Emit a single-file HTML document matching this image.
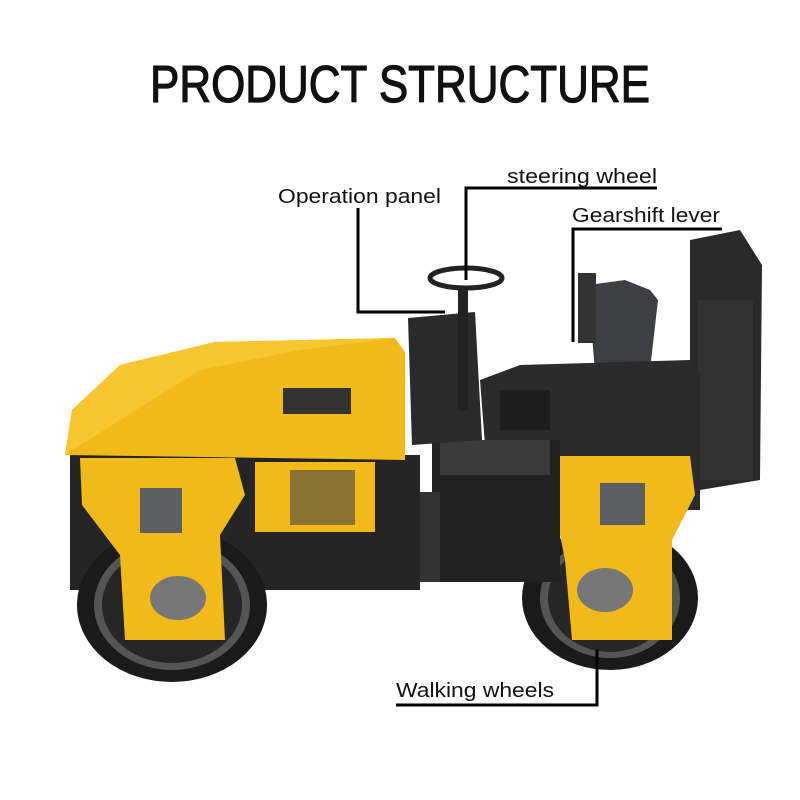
<!DOCTYPE html>
<html><head><meta charset="utf-8"><style>html,body{margin:0;padding:0;background:#fff}svg{display:block}</style></head>
<body>
<svg width="800" height="800" viewBox="0 0 800 800" xmlns="http://www.w3.org/2000/svg" font-family="Liberation Sans, sans-serif">
<rect width="800" height="800" fill="#fff"/>
<text x="400" y="102" text-anchor="middle" font-size="52" textLength="500" lengthAdjust="spacingAndGlyphs" fill="#111" stroke="#111" stroke-width="1.2">PRODUCT STRUCTURE</text>

<!-- ROPS back -->
<polygon points="690,240 740,230 762,265 760,480 700,490 690,470" fill="#2a2a2a"/>
<rect x="698" y="300" width="55" height="180" fill="#333"/>
<!-- seat -->
<polygon points="588,285 625,280 650,290 658,300 650,370 595,372" fill="#3d3f44"/>
<rect x="578" y="273" width="18" height="70" fill="#333"/>
<!-- right body -->
<polygon points="480,380 520,365 690,360 700,375 700,510 490,510" fill="#2b2b2b"/>
<rect x="500" y="390" width="50" height="40" fill="#1d1d1d"/>
<!-- right wheel -->
<ellipse cx="610" cy="598" rx="88" ry="72" fill="#1a1a1a"/>
<ellipse cx="610" cy="598" rx="70" ry="60" fill="#555"/>
<ellipse cx="610" cy="598" rx="62" ry="54" fill="#262626"/>
<path d="M558,456 L690,456 L695,495 L672,540 L672,640 L572,640 L565,560 L553,500 Z" fill="#f2b91a"/>
<rect x="600" y="483" width="45" height="42" fill="#5c6065"/>
<ellipse cx="605" cy="590" rx="28" ry="22" fill="#777"/>
<!-- operator platform -->
<rect x="432" y="440" width="128" height="142" fill="#222"/>
<rect x="440" y="440" width="110" height="35" fill="#3a3a3a"/>
<!-- panel & steering -->
<polygon points="408,318 475,312 482,440 412,445" fill="#2a2a2a"/>
<rect x="458" y="290" width="10" height="120" fill="#222"/>
<ellipse cx="466" cy="278" rx="36" ry="10" fill="none" stroke="#222" stroke-width="5"/>
<!-- coupling -->
<rect x="395" y="492" width="45" height="90" fill="#333"/>
<!-- left frame -->
<rect x="70" y="455" width="350" height="135" fill="#252525"/>
<!-- yellow hood -->
<path d="M65,455 L72,410 L120,365 L215,342 L395,338 L405,352 L405,460 Z" fill="#f2b91a"/>
<path d="M65,455 L72,410 L120,365 L215,342 L395,338 L300,350 L200,370 L120,420 Z" fill="#f7c630"/>
<g fill="#333"><rect x="283" y="388" width="68" height="26"/></g>
<!-- side panel -->
<rect x="255" y="462" width="120" height="70" fill="#f2b91a"/>
<rect x="290" y="470" width="65" height="55" fill="#444" opacity=".6"/>
<!-- left wheel -->
<ellipse cx="172" cy="605" rx="95" ry="77" fill="#1a1a1a"/>
<ellipse cx="172" cy="605" rx="78" ry="65" fill="#555"/>
<ellipse cx="172" cy="605" rx="70" ry="58" fill="#262626"/>
<path d="M80,458 L235,458 L245,495 L220,535 L225,640 L125,640 L120,555 L82,505 Z" fill="#f2b91a"/>
<rect x="140" y="488" width="42" height="45" fill="#5c6065"/>
<ellipse cx="178" cy="598" rx="28" ry="22" fill="#777"/>

<!-- callouts -->
<g stroke="#000" stroke-width="3" fill="none">
<polyline points="358,208 358,312 445,312"/>
<polyline points="657,188 466,188 466,280"/>
<polyline points="722,229 573,229 573,342"/>
<polyline points="396,705 597,705 597,650"/>
</g>
<g font-size="20" fill="#111">
<text x="278" y="203" textLength="163" lengthAdjust="spacingAndGlyphs">Operation panel</text>
<text x="507" y="183" textLength="150" lengthAdjust="spacingAndGlyphs">steering wheel</text>
<text x="572" y="222" textLength="148" lengthAdjust="spacingAndGlyphs">Gearshift lever</text>
<text x="396" y="697" textLength="158" lengthAdjust="spacingAndGlyphs">Walking wheels</text>
</g>
</svg>
</body></html>
